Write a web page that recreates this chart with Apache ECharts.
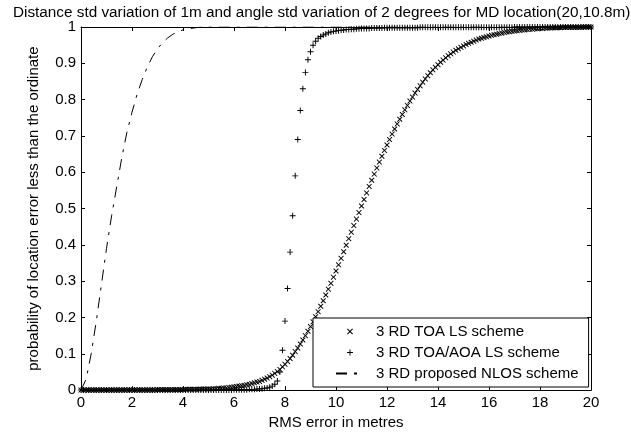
<!DOCTYPE html>
<html>
<head>
<meta charset="utf-8">
<script src="https://cdn.jsdelivr.net/npm/echarts@6/dist/echarts.min.js"></script>
<style>
html,body{margin:0;padding:0;background:#fff;}
#chart{width:631px;height:435px;}
</style>
</head>
<body>
<div id="chart"></div>
<script>
// ---- data ----
const titleText = 'Distance std variation of 1m and angle std variation of 2 degrees for MD location(20,10.8m)';
const xAxisName = 'RMS error in metres';
const yAxisName = 'probability of location error less than the ordinate';
const seriesNames = ['3 RD TOA LS scheme', '3 RD TOA/AOA LS scheme', '3 RD proposed NLOS scheme'];
const xTicks = ['0','2','4','6','8','10','12','14','16','18','20'];
const yTicks = ['0','0.1','0.2','0.3','0.4','0.5','0.6','0.7','0.8','0.9','1'];

// RMS error sampled every 0.1 m from 0 to 20 (201 samples)
const rmsStep = 0.1;
const toaLS = [
  0,0,0,0,0,0,0,0,0,0,
  0,0,0,0,0,0,0,0,0,0,
  0,0,0,0,0,0,0,0,0,0,
  0.001,0.001,0.001,0.001,0.001,0.001,0.001,0.001,0.001,0.001,
  0.001,0.002,0.002,0.002,0.002,
  0.002,0.002,0.003,0.003,0.003,
  0.003,0.003,0.004,0.004,0.005,
  0.005,0.006,0.006,0.007,0.008,
  0.009,0.010,0.011,0.012,0.013,
  0.015,0.016,0.018,0.020,0.022,
  0.024,0.027,0.030,0.033,0.037,
  0.041,0.046,0.051,0.057,0.064,
  0.071,0.079,0.087,0.096,0.106,
  0.116,0.127,0.138,0.150,0.162,
  0.175,0.188,0.202,0.216,0.231,
  0.246,0.262,0.278,0.294,0.311,
  0.328,0.345,0.363,0.381,0.399,
  0.417,0.435,0.453,0.471,0.489,
  0.507,0.525,0.543,0.561,0.578,
  0.595,0.612,0.628,0.644,0.660,
  0.675,0.690,0.705,0.719,0.733,
  0.746,0.759,0.772,0.784,0.796,
  0.807,0.818,0.828,0.838,0.848,
  0.857,0.866,0.874,0.882,0.889,
  0.896,0.903,0.909,0.915,0.921,
  0.926,0.931,0.936,0.940,0.944,
  0.948,0.952,0.955,0.958,0.961,
  0.964,0.967,0.969,0.971,0.973,
  0.975,0.977,0.979,0.980,0.982,
  0.983,0.985,0.986,0.987,0.988,
  0.989,0.990,0.991,0.992,0.992,
  0.993,0.994,0.994,0.995,0.995,
  0.996,0.996,0.997,0.997,0.997,
  0.998,0.998,0.998,0.998,0.999,
  0.999,0.999,0.999,0.999,0.999,
  0.999,0.999,1,1,1,
  1
];
const toaAoaLS = [
  0,0,0,0,0,0,0,0,0,0,
  0,0,0,0,0,0,0,0,0,0,
  0,0,0,0,0,0,0,0,0,0,
  0,0,0,0,0,0,0,0,0,0,
  0,0,0,0,0,0,0,0,0,0,
  0,0,0,0,0,0,0,0,0,0,
  0.001,0.001,0.001,0.001,0.001,
  0.001,0.002,0.002,0.002,0.003,
  0.003,0.004,0.005,0.006,0.008,
  0.011,0.016,0.025,0.050,0.110,
  0.190,0.280,0.380,0.480,0.590,
  0.690,0.770,0.830,0.875,0.910,
  0.932,0.950,0.961,0.969,0.974,
  0.978,0.981,0.984,0.986,0.988,
  0.989,0.990,0.991,0.992,0.993,
  0.993,0.994,0.994,0.995,0.995,
  0.996,0.996,0.996,0.996,0.997,0.997,0.997,0.997,0.997,0.998,
  0.998,0.998,0.998,0.998,0.998,0.998,0.998,0.998,0.998,0.998,
  0.998,0.998,0.998,0.999,0.999,0.999,0.999,0.999,0.999,0.999,
  0.999,0.999,0.999,0.999,0.999,0.999,0.999,0.999,0.999,0.999,
  0.999,0.999,0.999,0.999,0.999,0.999,0.999,0.999,0.999,0.999,
  0.999,0.999,0.999,0.999,0.999,0.999,0.999,0.999,0.999,0.999,
  1,1,1,1,1,1,1,1,1,1,
  1,1,1,1,1,1,1,1,1,1,
  1,1,1,1,1,1,1,1,1,1,
  1
];
const nlosRms = [0,0.2,0.4,0.6,0.8,1.0,1.2,1.4,1.6,1.8,2.0,2.2,2.4,2.6,2.8,3.0,3.2,3.4,3.6,3.8,4.0,4.2,4.4,4.6,4.8,5.0,6,8,10,12,14,16,18,20];
const nlosProb = [0,0.03,0.10,0.19,0.29,0.39,0.48,0.56,0.64,0.71,0.765,0.815,0.855,0.89,0.918,0.94,0.957,0.97,0.98,0.987,0.992,0.995,0.997,0.999,1,1,1,1,1,1,1,1,1,1];

// ---- chart ----
const FONT = '"Liberation Sans", Arial, Helvetica, sans-serif';
const xMarker = 'path://M0,1.2L1.2,0L5,3.8L8.8,0L10,1.2L6.2,5L10,8.8L8.8,10L5,6.2L1.2,10L0,8.8L3.8,5Z';
const plusMarker = 'path://M4.2,0H5.8V4.2H10V5.8H5.8V10H4.2V5.8H0V4.2H4.2Z';

const toPairs = arr => arr.map((v, i) => [Math.round(i * rmsStep * 10) / 10, v]);
const nlosPairs = nlosRms.map((x, i) => [x, nlosProb[i]]);

const chart = echarts.init(document.getElementById('chart'), null, {renderer: 'canvas'});

const xLabelFmt = v => { const i = xTicks.indexOf(String(Math.round(v))); return i >= 0 ? xTicks[i] : ''; };
const yLabelFmt = v => { const i = Math.round(v * 10); return yTicks[i] !== undefined ? yTicks[i] : ''; };

const axisCommon = {
  type: 'value',
  axisLine: {show: true, onZero: false, lineStyle: {color: '#000', width: 1}},
  axisTick: {show: true, inside: true, length: 4, lineStyle: {color: '#000', width: 1}},
  splitLine: {show: false}
};

chart.setOption({
  animation: false,
  backgroundColor: '#fff',
  title: {
    text: titleText,
    left: 8, top: 0,
    textStyle: {fontFamily: FONT, fontSize: 15.3, fontWeight: 'normal', color: '#000'}
  },
  grid: {left: 81, right: 40, top: 27, bottom: 42, containLabel: false},
  legend: {
    orient: 'vertical',
    left: 313, top: 318,
    padding: [6, 10, 6, 22],
    itemWidth: 28, itemHeight: 6, itemGap: 6,
    backgroundColor: '#fff', borderColor: '#000', borderWidth: 1, borderRadius: 0,
    selectedMode: false,
    textStyle: {fontFamily: FONT, fontSize: 15, color: '#000', lineHeight: 14, padding: [0, 0, 0, 7]},
    data: seriesNames
  },
  xAxis: [
    Object.assign({}, axisCommon, {
      position: 'bottom', min: 0, max: 20, interval: 2,
      name: xAxisName, nameLocation: 'middle', nameGap: 23,
      nameTextStyle: {fontFamily: FONT, fontSize: 15, color: '#000'},
      axisLabel: {show: true, margin: 5, fontFamily: FONT, fontSize: 15, color: '#000', formatter: xLabelFmt}
    }),
    Object.assign({}, axisCommon, {
      position: 'top', min: 0, max: 20, interval: 2, axisLabel: {show: false}
    })
  ],
  yAxis: [
    Object.assign({}, axisCommon, {
      position: 'left', min: 0, max: 1, interval: 0.1,
      name: yAxisName, nameLocation: 'middle', nameGap: 40, nameRotate: 90,
      nameTextStyle: {fontFamily: FONT, fontSize: 15, color: '#000'},
      axisLabel: {show: true, margin: 5, fontFamily: FONT, fontSize: 15, color: '#000', formatter: yLabelFmt}
    }),
    Object.assign({}, axisCommon, {
      position: 'right', min: 0, max: 1, interval: 0.1, axisLabel: {show: false}
    })
  ],
  series: [
    {
      name: seriesNames[0], type: 'scatter', xAxisIndex: 0, yAxisIndex: 0,
      symbol: xMarker, symbolSize: 5.5, clip: false,
      itemStyle: {color: '#000', opacity: 1},
      data: toPairs(toaLS)
    },
    {
      name: seriesNames[1], type: 'scatter', xAxisIndex: 0, yAxisIndex: 0,
      symbol: plusMarker, symbolSize: 6, clip: false,
      itemStyle: {color: '#000', opacity: 1},
      data: toPairs(toaAoaLS)
    },
    {
      name: seriesNames[2], type: 'line', xAxisIndex: 0, yAxisIndex: 0,
      symbol: 'none', showSymbol: false, smooth: false,
      itemStyle: {color: 'rgba(0,0,0,0)'},
      lineStyle: {color: '#000', width: 1, type: [11, 7, 3, 7]},
      data: nlosPairs
    }
  ]
});
</script>
</body>
</html>
